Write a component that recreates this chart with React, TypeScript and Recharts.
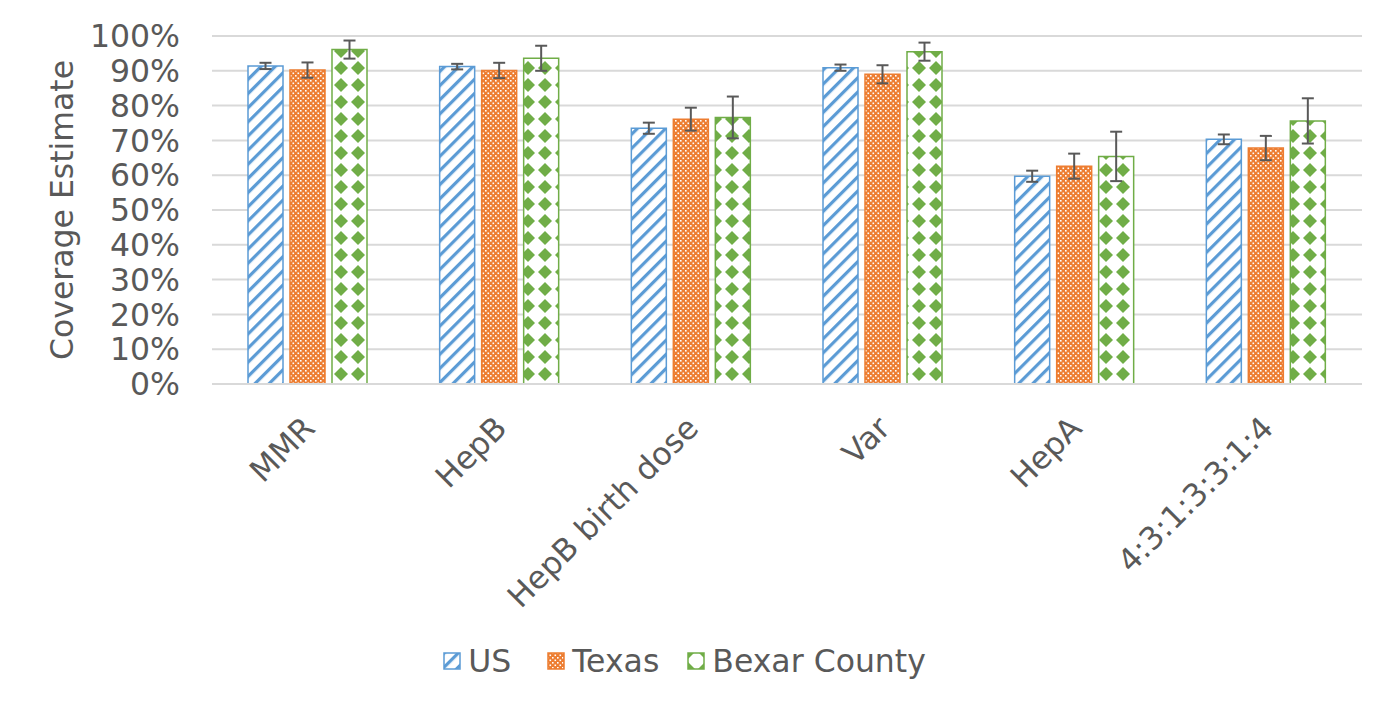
import React from "react";
import {
  Bar,
  BarChart,
  CartesianGrid,
  ErrorBar,
  Legend,
  XAxis,
  YAxis,
} from "recharts";

const categories = ["MMR", "HepB", "HepB birth dose", "Var", "HepA", "4:3:1:3:3:1:4"];
const usValues = [91.4, 91.2, 73.5, 90.9, 59.7, 70.3];
const usErrors = [0.9, 0.8, 1.6, 0.9, 1.6, 1.4];
const texasValues = [90.2, 90.1, 76.1, 89.0, 62.6, 67.8];
const texasErrors = [2.2, 2.2, 3.3, 2.6, 3.6, 3.5];
const bexarValues = [96.1, 93.6, 76.6, 95.5, 65.4, 75.6];
const bexarErrors = [2.6, 3.6, 6.0, 2.6, 7.1, 6.5];
const yTicks = [0, 10, 20, 30, 40, 50, 60, 70, 80, 90, 100];

const seriesNames = ["US", "Texas", "Bexar County"];

const data = categories.map((name, i) => ({
  name,
  us: usValues[i],
  usErr: usErrors[i],
  texas: texasValues[i],
  texasErr: texasErrors[i],
  bexar: bexarValues[i],
  bexarErr: bexarErrors[i],
}));

const BLUE = "#5b9bd5";
const ORANGE = "#ed7d31";
const GREEN = "#70ad47";
const TEXT = "#595959";
const GRID = "#d9d9d9";
const FS = 31.5;

function Patterns({ prefix }: { prefix: string }) {
  // green diamonds at the tile corners, white in between
  const t = 17;
  const d = 7;
  const corners = [
    [0, 0],
    [t, 0],
    [0, t],
    [t, t],
  ];
  return (
    <defs>
      <pattern
        id={prefix + "us"}
        width={10}
        height={10}
        patternUnits="userSpaceOnUse"
        patternTransform="rotate(45)"
      >
        <rect width={10} height={10} fill="#fff" />
        <rect width={3.2} height={10} fill={BLUE} />
      </pattern>
      <pattern id={prefix + "tx"} width={5} height={5} patternUnits="userSpaceOnUse">
        <rect width={5} height={5} fill={ORANGE} />
        <rect x={0} y={0} width={1.6} height={1.6} fill="#fff" />
        <rect x={2.5} y={2.5} width={1.6} height={1.6} fill="#fff" />
      </pattern>
      <pattern
        id={prefix + "bx"}
        width={t}
        height={t}
        x={1}
        y={0}
        patternUnits="userSpaceOnUse"
      >
        <rect width={t} height={t} fill="#fff" />
        {corners.map(([cx, cy], k) => (
          <polygon
            key={k}
            points={`${cx - d},${cy} ${cx},${cy - d} ${cx + d},${cy} ${cx},${cy + d}`}
            fill={GREEN}
          />
        ))}
      </pattern>
    </defs>
  );
}

const XTick = (props: any) => {
  const { x, y, payload } = props;
  return (
    <g transform={`translate(${x + 9},${y + 46})`}>
      <text textAnchor="end" transform="rotate(-45)" fill={TEXT} fontSize={FS}>
        {payload.value}
      </text>
    </g>
  );
};

const LegendContent = () => {
  const ids = ["us", "tx", "bx"];
  const strokes = [BLUE, ORANGE, GREEN];
  const gaps = [36, 28, 0];
  return (
    <div
      style={{
        display: "flex",
        justifyContent: "center",
        alignItems: "center",
        paddingRight: 22,
      }}
    >
      {seriesNames.map((s, i) => (
        <div
          key={s}
          style={{
            display: "flex",
            alignItems: "center",
            marginRight: gaps[i],
          }}
        >
          <svg width={18} height={18} style={{ marginRight: 7 }}>
            <Patterns prefix={"leg" + i} />
            <rect
              x={1}
              y={1}
              width={16}
              height={16}
              fill={`url(#leg${i}${ids[i]})`}
              stroke={strokes[i]}
              strokeWidth={1.5}
            />
          </svg>
          <span style={{ fontSize: FS, color: TEXT, lineHeight: "36px" }}>{s}</span>
        </div>
      ))}
    </div>
  );
};

export default function App() {
  return (
    <div
      style={{
        position: "relative",
        width: 1391,
        height: 702,
        marginLeft: -8,
        marginTop: -8,
        overflow: "hidden",
        background: "#fff",
        fontFamily: "'DejaVu Sans', Verdana, sans-serif",
      }}
    >
      <div
        style={{
          position: "absolute",
          left: 6,
          top: 3,
          width: 1384,
          height: 720,
          borderTop: `1px solid ${GRID}`,
          borderRight: `1px solid ${GRID}`,
          borderLeft: `2px solid ${GRID}`,
          boxSizing: "border-box",
        }}
      />
      <BarChart
        width={1391}
        height={702}
        data={data}
        margin={{ top: 36, right: 29, left: 0, bottom: 288 }}
        barSize={35}
        barGap={7}
      >
        <Patterns prefix="" />
        <CartesianGrid vertical={false} stroke={GRID} strokeWidth={2} />
        <XAxis
          dataKey="name"
          height={30}
          tickSize={0}
          tickMargin={0}
          axisLine={{ stroke: GRID, strokeWidth: 2 }}
          tickLine={false}
          tick={<XTick />}
          interval={0}
        />
        <YAxis
          width={212}
          domain={[0, 100]}
          ticks={yTicks}
          interval={0}
          tickFormatter={(v) => `${v}%`}
          axisLine={false}
          tickLine={false}
          tickSize={0}
          tickMargin={32}
          tick={{ fill: TEXT, fontSize: FS }}
          label={{
            content: (p: any) => {
              const vb = p.viewBox || { x: 0, y: 36, height: 348 };
              const cx = 62;
              const cy = vb.y + vb.height / 2;
              return (
                <text
                  x={cx}
                  y={cy}
                  transform={`rotate(-90, ${cx}, ${cy})`}
                  textAnchor="middle"
                  dominantBaseline="central"
                  fill={TEXT}
                  fontSize={FS}
                >
                  Coverage Estimate
                </text>
              );
            },
          }}
        />
        <Legend
          verticalAlign="middle"
          align="center"
          content={<LegendContent />}
          wrapperStyle={{ left: 0, top: 643, width: 1391 }}
        />
        <Bar
          dataKey="us"
          name="US"
          fill="url(#us)"
          stroke={BLUE}
          strokeWidth={1.5}
          isAnimationActive={false}
        >
          <ErrorBar dataKey="usErr" width={6} stroke={TEXT} strokeWidth={2} />
        </Bar>
        <Bar
          dataKey="texas"
          name="Texas"
          fill="url(#tx)"
          stroke={ORANGE}
          strokeWidth={1.5}
          isAnimationActive={false}
        >
          <ErrorBar dataKey="texasErr" width={6} stroke={TEXT} strokeWidth={2} />
        </Bar>
        <Bar
          dataKey="bexar"
          name="Bexar County"
          fill="url(#bx)"
          stroke={GREEN}
          strokeWidth={1.5}
          isAnimationActive={false}
        >
          <ErrorBar dataKey="bexarErr" width={6} stroke={TEXT} strokeWidth={2} />
        </Bar>
      </BarChart>
    </div>
  );
}
